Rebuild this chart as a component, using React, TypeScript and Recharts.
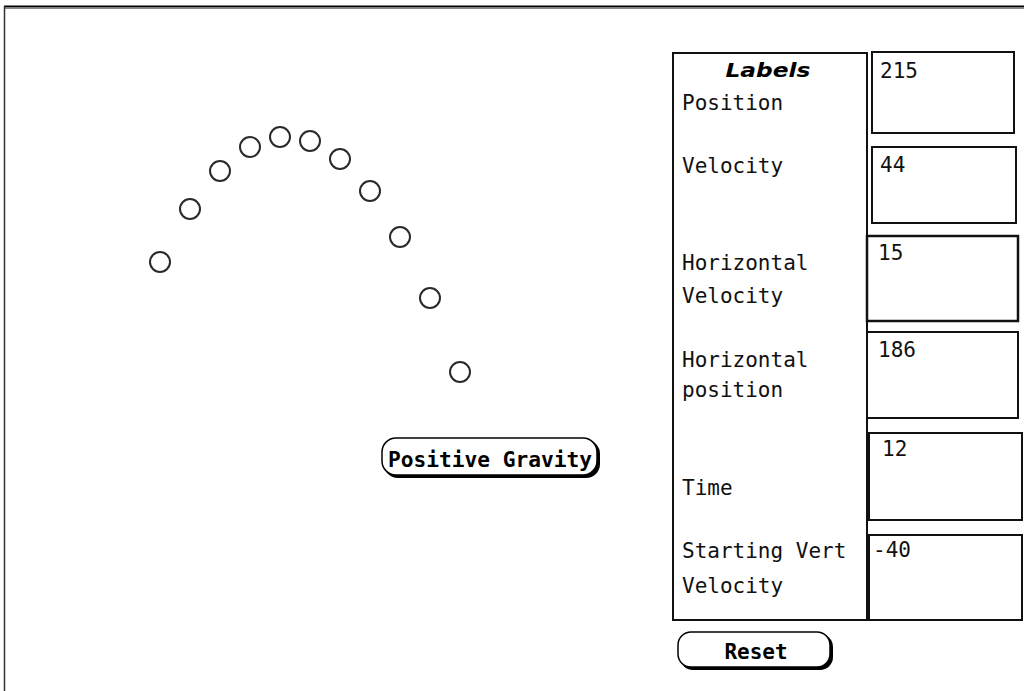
import React from "react";
import { ScatterChart, Scatter, XAxis, YAxis } from "recharts";

// Ball trajectory: time step vs height (screen units)
const steps = [1, 2, 3, 4, 5, 6, 7, 8, 9, 10, 11];
const heights = [138, 191, 229, 253, 263, 259, 241, 209, 163, 102, 28];

// Panel labels and values
const labelLines = [
  ["Position"],
  ["Velocity"],
  ["Horizontal", "Velocity"],
  ["Horizontal", "position"],
  ["Time"],
  ["Starting Vert", "Velocity"],
];
const fieldValues = ["215", "44", "15", "186", "12", "-40"];

const data = steps.map((s, i) => ({ step: s, height: heights[i] }));

const W = 1024;
const H = 691;
const MONO = "'DejaVu Sans Mono', 'Liberation Mono', monospace";

const Ball = (props: any) => {
  const { cx, cy } = props;
  if (cx == null || cy == null) return null;
  return <circle cx={cx} cy={cy} r={10} fill="#fff" stroke="#2a2a2a" strokeWidth={2} />;
};

// layout (presentation only)
const labelPos = [
  [110],
  [173],
  [270, 303],
  [367, 397],
  [495],
  [558, 593],
];
const boxes = [
  { x: 872, y: 52, w: 142, h: 81, tx: 880, ty: 78 },
  { x: 872, y: 147, w: 144, h: 76, tx: 880, ty: 172 },
  { x: 867, y: 236, w: 151, h: 85, tx: 878, ty: 260 },
  { x: 867, y: 332, w: 151, h: 86, tx: 878, ty: 357 },
  { x: 869, y: 433, w: 153, h: 87, tx: 882, ty: 456 },
  { x: 869, y: 535, w: 153, h: 85, tx: 873, ty: 557 },
];

export default function App() {
  return (
    <div style={{ position: "absolute", left: 0, top: 0, width: W, height: H, background: "#fff" }}>
      <svg width={W} height={H} style={{ position: "absolute", left: 0, top: 0 }}>
        {/* frame */}
        <line x1={4} y1={6.5} x2={W} y2={6.5} stroke="#000" strokeWidth={2} />
        <line x1={4} y1={7} x2={W} y2={7} stroke="#888" strokeWidth={1} transform="translate(0,1.5)" />
        <line x1={4.5} y1={6} x2={4.5} y2={H} stroke="#333" strokeWidth={1.5} />

        {/* Positive Gravity button */}
        <rect x={384} y={440} width={216} height={38} rx={14} fill="#000" />
        <rect x={382} y={438} width={215} height={37} rx={14} fill="#fff" stroke="#000" strokeWidth={1.5} />
        <text x={490} y={467} textAnchor="middle" fontFamily={MONO} fontWeight="bold" fontSize={21} textLength={204} lengthAdjust="spacingAndGlyphs">
          Positive Gravity
        </text>

        {/* Labels panel */}
        <rect x={673} y={53} width={194} height={567} fill="none" stroke="#111" strokeWidth={2} />
        <text x={768} y={77} textAnchor="middle" fontFamily="'DejaVu Sans', sans-serif" fontWeight="bold" fontStyle="italic" fontSize={20} textLength={85} lengthAdjust="spacingAndGlyphs">
          Labels
        </text>
        {labelLines.map((lines, i) =>
          lines.map((ln, j) => (
            <text key={`${i}-${j}`} x={682} y={labelPos[i][j]} fontFamily={MONO} fontSize={21} fill="#111">
              {ln}
            </text>
          ))
        )}
        {boxes.map((b, i) => (
          <g key={i}>
            <rect x={b.x} y={b.y} width={b.w} height={b.h} fill="#fff" stroke="#111" strokeWidth={i === 2 ? 2.5 : 2} />
            <text x={b.tx} y={b.ty} fontFamily={MONO} fontSize={21} fill="#111">
              {fieldValues[i]}
            </text>
          </g>
        ))}

        {/* Reset button */}
        <rect x={680} y={634} width={153} height={36} rx={13} fill="#000" />
        <rect x={678} y={632} width={152} height={35} rx={13} fill="#fff" stroke="#000" strokeWidth={1.5} />
        <text x={756} y={659} textAnchor="middle" fontFamily={MONO} fontWeight="bold" fontSize={21}>
          Reset
        </text>
      </svg>

      <div style={{ position: "absolute", left: 0, top: 0 }}>
        <ScatterChart width={W} height={H} margin={{ top: 0, right: 0, bottom: 0, left: 0 }}>
          <XAxis type="number" dataKey="step" hide domain={[-130 / 30, -130 / 30 + W / 30]} allowDataOverflow />
          <YAxis type="number" dataKey="height" hide domain={[400 - H, 400]} allowDataOverflow width={0} />
          <Scatter data={data} shape={<Ball />} isAnimationActive={false} />
        </ScatterChart>
      </div>
    </div>
  );
}
